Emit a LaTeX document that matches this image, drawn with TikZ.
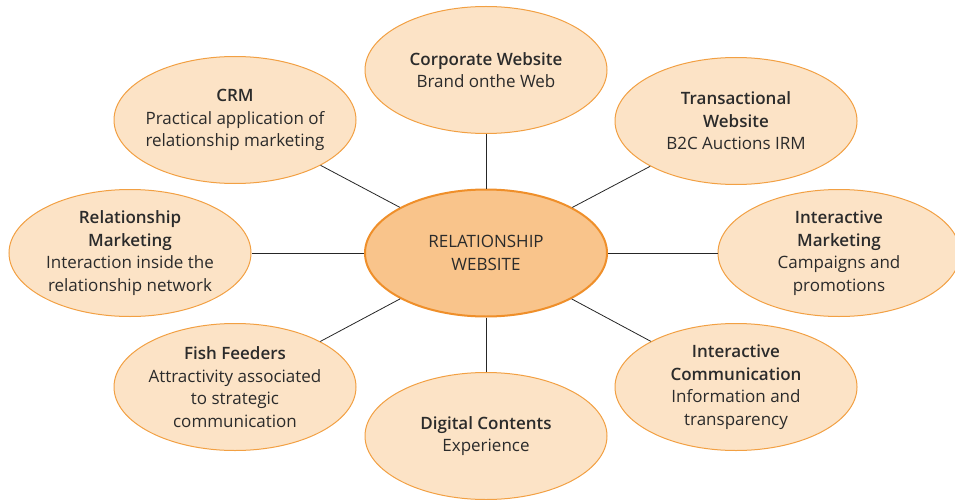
\documentclass[tikz,border=0pt]{standalone}
\usepackage{fontspec}
\setmainfont{Open Sans}[BoldFont={Open Sans Semibold}]
\usetikzlibrary{shapes.geometric}
\definecolor{outerfill}{HTML}{FCE3C6}
\definecolor{outerdraw}{HTML}{F2A043}
\definecolor{centerfill}{HTML}{F9C48B}
\definecolor{centerdraw}{HTML}{EF8F2A}
\definecolor{txt}{HTML}{2B2B2B}
\tikzset{
  bubble/.style={ellipse, draw=outerdraw, fill=outerfill, line width=1pt,
    minimum width=242pt, minimum height=127pt, inner sep=-12pt,
    align=center, text=txt, font=\fontsize{17}{22.5}\selectfont},
  hub/.style={bubble, draw=centerdraw, fill=centerfill, line width=2pt,
    minimum width=242pt, minimum height=127pt},
  link/.style={draw=black!85, line width=0.8pt}
}
\newcommand{\ttl}[1]{\textbf{#1}}
\begin{document}
\begin{tikzpicture}[x=1pt,y=-1pt]
\path[use as bounding box] (0,0) rectangle (955,500);
\node[hub] (c) at (486,253) {RELATIONSHIP\\WEBSITE};
\node[bubble] (corp) at (486,70) {\ttl{Corporate Website}\\Brand onthe Web};
\node[bubble] (trans) at (736,121) {\ttl{Transactional}\\\ttl{Website}\\B2C Auctions IRM};
\node[bubble] (imark) at (839,253) {\ttl{Interactive}\\\ttl{Marketing}\\Campaigns and\\promotions};
\node[bubble] (icomm) at (736,387) {\ttl{Interactive}\\\ttl{Communication}\\Information and\\transparency};
\node[bubble] (dig) at (486,436) {\ttl{Digital Contents}\\Experience};
\node[bubble] (fish) at (235,387) {\ttl{Fish Feeders}\\Attractivity associated\\to strategic\\communication};
\node[bubble] (rmark) at (130,253) {\ttl{Relationship}\\\ttl{Marketing}\\Interaction inside the\\relationship network};
\node[bubble] (crm) at (235,120) {\ttl{CRM}\\Practical application of\\relationship marketing};
\foreach \n in {corp,trans,imark,icomm,dig,fish,rmark,crm}
  \draw[link] (c) -- (\n);
\end{tikzpicture}
\end{document}
